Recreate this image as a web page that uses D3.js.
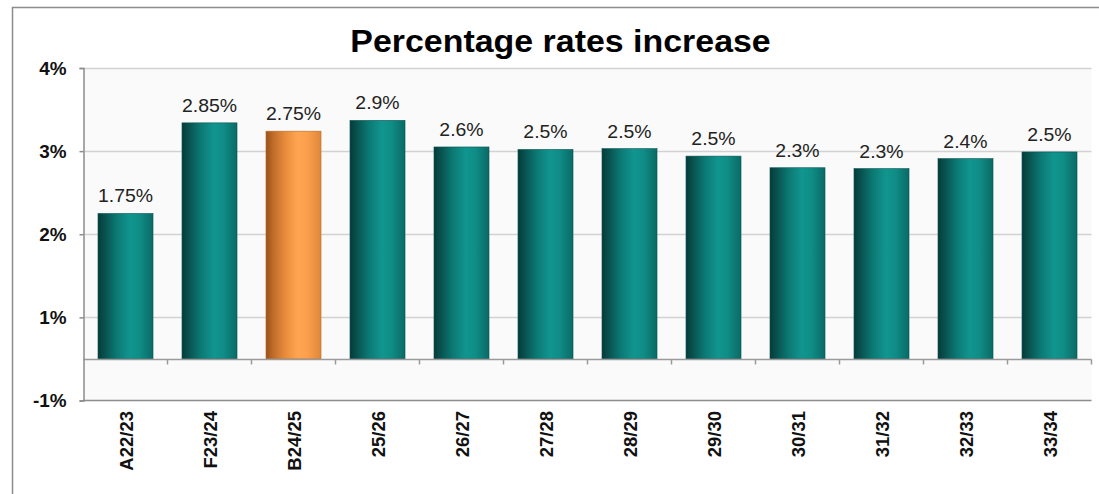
<!DOCTYPE html>
<html>
<head>
<meta charset="utf-8">
<script src="https://cdn.jsdelivr.net/npm/d3@7"></script>
<style>
  html, body { margin: 0; padding: 0; background: #ffffff; }
  svg { display: block; font-family: "Liberation Sans", Arial, sans-serif; }
</style>
</head>
<body>
<svg id="chart" width="1099" height="494"></svg>
<script>
// ---- data ----
const categories = ["A22/23", "F23/24", "B24/25", "25/26", "26/27", "27/28", "28/29", "29/30", "30/31", "31/32", "32/33", "33/34"];
const barValues = [1.75, 2.84, 2.74, 2.87, 2.55, 2.52, 2.53, 2.44, 2.30, 2.29, 2.41, 2.49];
const valueLabels = ["1.75%", "2.85%", "2.75%", "2.9%", "2.6%", "2.5%", "2.5%", "2.5%", "2.3%", "2.3%", "2.4%", "2.5%"];
const highlighted = ["B24/25"];
const yTickValues = [-0.5, 0.5, 1.5, 2.5, 3.5];
const yTickLabels = ["-1%", "1%", "2%", "3%", "4%"];
const title = "Percentage rates increase";

// ---- layout ----
const svg = d3.select("#chart");
const plot = { left: 83.5, right: 1091.5, top: 68, bottom: 400.5 };
const stretch = 1.08;

const x = d3.scaleBand().domain(categories).range([plot.left, plot.right])
  .paddingInner(0.345).paddingOuter(0.1725);
const y = d3.scaleLinear().domain([-0.5, 3.5]).range([plot.bottom, plot.top]);

// gradients
const defs = svg.append("defs");
function grad(id, stops) {
  const g = defs.append("linearGradient").attr("id", id)
    .attr("x1", "0%").attr("x2", "100%").attr("y1", "0%").attr("y2", "0%");
  stops.forEach(s => g.append("stop").attr("offset", s[0]).attr("stop-color", s[1]));
}
grad("teal", [["0%", "#053b39"], ["12%", "#08514e"], ["35%", "#0c7a75"], ["58%", "#11958f"], ["75%", "#0f8d87"], ["100%", "#0a6a66"]]);
grad("orange", [["0%", "#9a5018"], ["12%", "#bd6a28"], ["35%", "#e88c3c"], ["58%", "#ffa652"], ["75%", "#fb9f4c"], ["100%", "#df873a"]]);

// outer frame (top and left edges visible)
svg.append("rect").attr("x", 12.5).attr("y", 7.5).attr("width", 1200).attr("height", 600)
  .attr("fill", "#ffffff").attr("stroke", "#8c8c8c").attr("stroke-width", 1.5);

// plot background
svg.append("rect").attr("x", plot.left).attr("y", plot.top)
  .attr("width", plot.right - plot.left).attr("height", plot.bottom - plot.top)
  .attr("fill", "#fafafa");

// gridlines
svg.append("g").selectAll("line").data(yTickValues.filter(v => v > -0.5)).join("line")
  .attr("x1", plot.left).attr("x2", plot.right)
  .attr("y1", d => Math.round(y(d)) + 0.5).attr("y2", d => Math.round(y(d)) + 0.5)
  .attr("stroke", "#d2d2d2").attr("stroke-width", 1.5);

// bars
svg.append("g").selectAll("rect").data(categories).join("rect")
  .attr("x", d => x(d))
  .attr("width", x.bandwidth())
  .attr("y", (d, i) => y(barValues[i]))
  .attr("height", (d, i) => y(0) - y(barValues[i]))
  .attr("fill", d => highlighted.includes(d) ? "url(#orange)" : "url(#teal)")
  .attr("stroke", d => highlighted.includes(d) ? "#b86a2c" : "#0a5553")
  .attr("stroke-width", 0.6);

// baseline with category boundary ticks
const y0 = Math.round(y(0)) + 0.5;
svg.append("line").attr("x1", plot.left).attr("x2", plot.right)
  .attr("y1", y0).attr("y2", y0).attr("stroke", "#9a9a9a").attr("stroke-width", 1.5);
const boundaries = categories.map(c => x(c) - x.step() * x.paddingInner() / 2).concat([plot.right]);
svg.append("g").selectAll("line").data(boundaries.slice(1)).join("line")
  .attr("x1", d => d).attr("x2", d => d)
  .attr("y1", y0).attr("y2", y0 + 5)
  .attr("stroke", "#9a9a9a").attr("stroke-width", 1.5);

// y axis
const yAxis = d3.axisLeft(y).tickValues(yTickValues).tickSize(4).tickPadding(12)
  .tickFormat((d, i) => yTickLabels[i]);
const gy = svg.append("g").attr("transform", `translate(${plot.left},0)`).call(yAxis);
gy.select(".domain").attr("stroke", "#8c8c8c").attr("stroke-width", 1.5);
gy.selectAll(".tick line").attr("stroke", "#8c8c8c").attr("stroke-width", 1.5);
gy.selectAll(".tick text")
  .attr("font-family", "'Liberation Sans', Arial, sans-serif")
  .attr("font-size", 17.5).attr("font-weight", "bold").attr("fill", "#111")
  .attr("dy", "0.36em")
  .attr("transform", `scale(${stretch},1)`)
  .attr("x", -17 / stretch);

// bottom line
svg.append("line").attr("x1", plot.left).attr("x2", plot.right)
  .attr("y1", plot.bottom).attr("y2", plot.bottom)
  .attr("stroke", "#8c8c8c").attr("stroke-width", 1.5);

// x labels (rotated)
svg.append("g").selectAll("text").data(categories).join("text")
  .attr("transform", d => `translate(${x(d) + x.bandwidth() / 2 + 7},${411}) rotate(-90)`)
  .attr("text-anchor", "end")
  .attr("font-size", 18.5).attr("font-weight", "bold").attr("fill", "#111")
  .text(d => d);

// value labels
svg.append("g").selectAll("text").data(categories).join("text")
  .attr("transform", (d, i) => `translate(${x(d) + x.bandwidth() / 2},${y(barValues[i]) - 11}) scale(${stretch},1)`)
  .attr("text-anchor", "middle")
  .attr("font-size", 18).attr("fill", "#222")
  .text((d, i) => valueLabels[i]);

// title
svg.append("text")
  .attr("transform", `translate(560.5,52) scale(1.06,1)`)
  .attr("text-anchor", "middle")
  .attr("font-size", 32).attr("font-weight", "bold").attr("fill", "#000")
  .text(title);
</script>
</body>
</html>
